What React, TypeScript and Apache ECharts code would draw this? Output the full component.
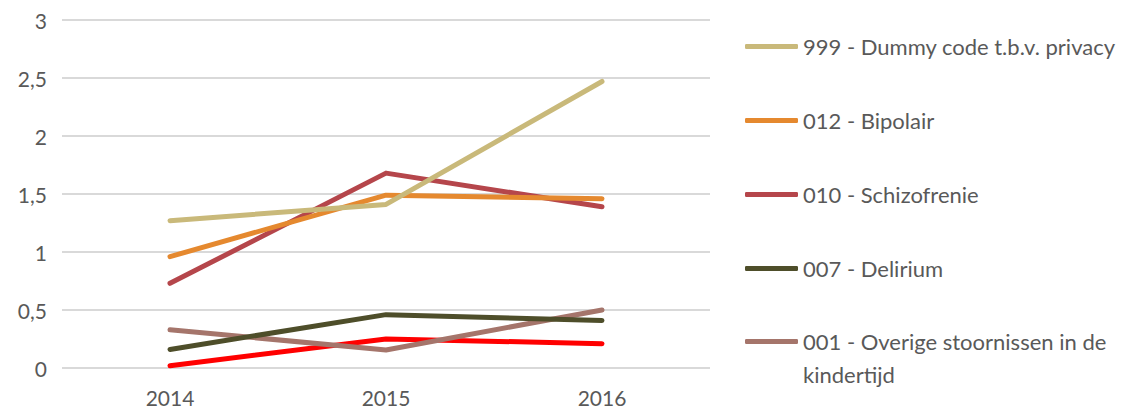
import React, { useEffect, useRef } from "react";
import * as echarts from "echarts";

const years = ["2014", "2015", "2016"];
const seriesNames = [
  "999 - Dummy code t.b.v. privacy",
  "012 - Bipolair",
  "010 - Schizofrenie",
  "007 - Delirium",
  "001 - Overige stoornissen in de kindertijd",
  "Overig",
];
const dummyValues = [1.27, 1.41, 2.47];
const bipolairValues = [0.96, 1.49, 1.46];
const schizoValues = [0.73, 1.68, 1.39];
const deliriumValues = [0.16, 0.46, 0.41];
const overigeValues = [0.33, 0.155, 0.5];
const redValues = [0.02, 0.25, 0.21];
const colors = ["#C9B97A", "#E5892F", "#B5464B", "#4E4E2A", "#A5756B", "#FF0000"];

export default function App() {
  const ref = useRef<HTMLDivElement>(null);
  useEffect(() => {
    document.body.style.margin = "0";
    if (!ref.current) return;
    const chart = echarts.init(ref.current, null, { renderer: "svg" });
    const values = [dummyValues, bipolairValues, schizoValues, deliriumValues, overigeValues, redValues];
    const font = "Lato, sans-serif";
    const legendBase = {
      orient: "vertical",
      left: 740,
      itemWidth: 53,
      itemHeight: 5,
      itemGap: 41,
      icon: "roundRect",
      textStyle: { color: "#595959", fontSize: 22, fontFamily: font, lineHeight: 33 },
    };
    chart.setOption({
      animation: false,
      grid: { left: 62, right: 416, top: 20, bottom: 44 },
      xAxis: {
        type: "category",
        data: years,
        boundaryGap: true,
        axisLine: { show: false },
        axisTick: { show: false },
        axisLabel: { color: "#595959", fontSize: 21, fontFamily: font, margin: 19 },
      },
      yAxis: {
        type: "value",
        min: 0,
        max: 3,
        interval: 0.5,
        axisLabel: {
          color: "#595959",
          fontSize: 21,
          fontFamily: font,
          margin: 15,
          formatter: (v: number) => String(v).replace(".", ","),
        },
        splitLine: { lineStyle: { color: "#D9D9D9", width: 2 } },
      },
      legend: [
        {
          ...legendBase,
          top: 25,
          data: [seriesNames[0], seriesNames[1], seriesNames[2], seriesNames[3]],
        },
        {
          ...legendBase,
          top: 287,
          formatter: () => "\n001 - Overige stoornissen in de\nkindertijd",
          data: [seriesNames[4]],
        },
      ],
      series: seriesNames.map((n, i) => ({
        name: n,
        type: "line",
        data: values[i],
        showSymbol: false,
        symbol: "none",
        color: colors[i],
        lineStyle: { width: 5, color: colors[i], cap: "round", join: "round" },
        z: 10 - i,
      })),
    });
    return () => chart.dispose();
  }, []);
  return <div ref={ref} style={{ width: 1126, height: 412 }} />;
}
